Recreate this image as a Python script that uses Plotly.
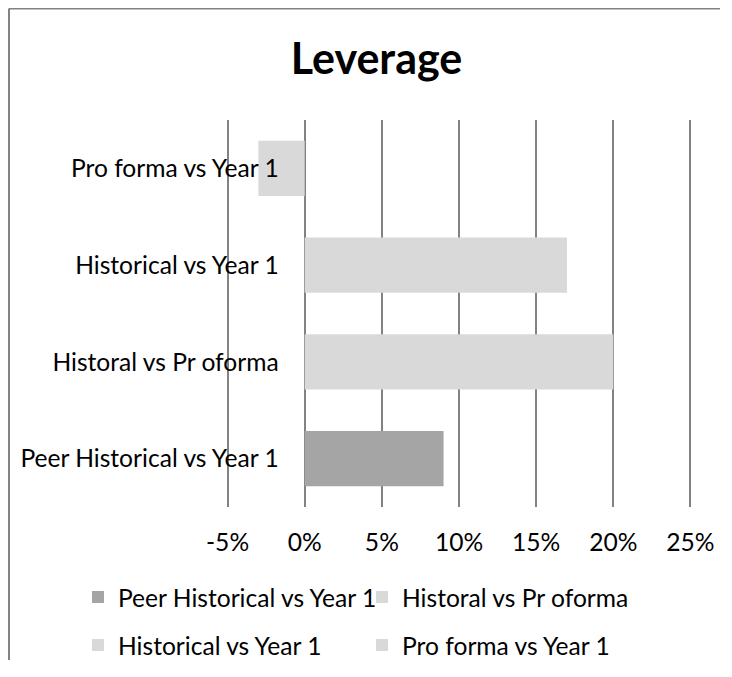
import plotly.graph_objects as go

# ---- data ----
categories = [
    "Peer Historical vs Year 1",
    "Historal vs Pr oforma",
    "Historical vs Year 1",
    "Pro forma vs Year 1",
]
values = [0.09, 0.20, 0.17, -0.03]
bar_colors = ["#a5a5a5", "#d9d9d9", "#d9d9d9", "#d9d9d9"]
tick_values = [-0.05, 0.0, 0.05, 0.10, 0.15, 0.20, 0.25]
tick_labels = ["-5%", "0%", "5%", "10%", "15%", "20%", "25%"]
title_text = "Leverage"

# page has an 8px body margin, so the figure is drawn 8px in from the page edge
W, H = 712, 652
X_RANGE = [-0.051, 0.251]
L, R, T = 218, 28, 112
PLOT_BOTTOM = 499
B = H - PLOT_BOTTOM
pw, ph = W - L - R, H - T - B
FONT = "Lato"
GRID = "#828282"
FS = 24.6

def px_x(p):
    return (p - L) / pw

def px_y(q):
    return (PLOT_BOTTOM - q) / ph

fig = go.Figure()
legend_of = ["legend", "legend", "legend2", "legend2"]
for cat, val, col, lg in zip(categories, values, bar_colors, legend_of):
    fig.add_trace(go.Bar(
        y=[cat], x=[val], orientation="h", name=cat,
        marker=dict(color=col, line=dict(width=0)),
        legend=lg, hoverinfo="skip",
    ))

leg_common = dict(orientation="h", x=px_x(70), xanchor="left", yanchor="middle",
                  entrywidth=239, font=dict(family=FONT, size=FS, color="black"),
                  bgcolor="rgba(0,0,0,0)", traceorder="normal", borderwidth=0)

zero_pos = (0 - X_RANGE[0]) / (X_RANGE[1] - X_RANGE[0])

fig.update_layout(
    width=W, height=H,
    margin=dict(l=L, r=R, t=T, b=B, autoexpand=False),
    paper_bgcolor="white", plot_bgcolor="white",
    barmode="overlay", bargap=0.43,
    font=dict(family=FONT, size=FS, color="black"),
    title=dict(text="<b>" + title_text + "</b>", x=368.5 / W, xanchor="center",
               y=1 - 51 / H, yanchor="middle", yref="container",
               font=dict(family=FONT, size=43, color="black")),
    xaxis=dict(range=X_RANGE, tickvals=tick_values, ticktext=tick_labels,
               showgrid=True, gridcolor=GRID, gridwidth=1.5, zeroline=False,
               showline=False, ticks="", ticklabelstandoff=18,
               tickfont=dict(family=FONT, size=FS, color="black"), fixedrange=True),
    yaxis=dict(type="category", categoryorder="array", categoryarray=categories,
               anchor="free", position=zero_pos, showgrid=False, zeroline=False,
               showline=False, ticks="", ticklabelstandoff=26,
               tickfont=dict(family=FONT, size=FS, color="black"), fixedrange=True),
    legend=dict(y=px_y(589), **leg_common),
    legend2=dict(y=px_y(637), **leg_common),
    showlegend=True,
    shapes=[
        dict(type="line", xref="paper", yref="paper",
             x0=px_x(1), x1=px_x(W), y0=px_y(0.5), y1=px_y(0.5),
             line=dict(color=GRID, width=2)),
        dict(type="line", xref="paper", yref="paper",
             x0=px_x(1), x1=px_x(1), y0=px_y(0.5), y1=px_y(H),
             line=dict(color=GRID, width=2)),
    ],
)

fig.write_html("out.html")
